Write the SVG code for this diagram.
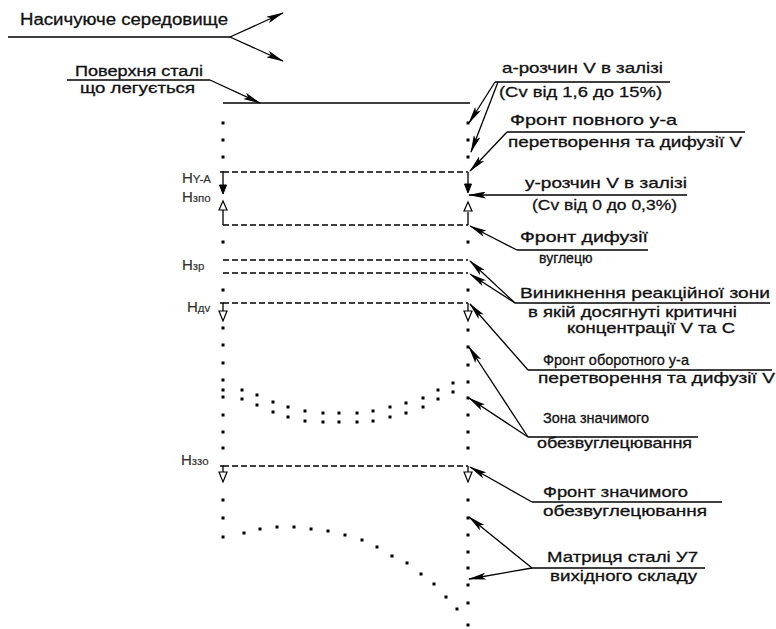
<svg xmlns="http://www.w3.org/2000/svg" width="776" height="629" viewBox="0 0 776 629">
<style>
text{font-family:"Liberation Sans",Arial,sans-serif;font-size:15px;fill:#111;stroke:#111;stroke-width:0.3;}
.sm{font-size:14px;}
.lbl{font-size:15px;fill:#333;stroke:#333;stroke-width:0.2;}
.sub{font-size:11.5px;}
.ln{stroke:#000;stroke-width:1.3;fill:none;}
.ld{stroke:#000;stroke-width:1.3;fill:none;marker-end:url(#ah);}
.da{stroke:#000;stroke-width:1.3;fill:none;stroke-dasharray:6 3;}
.dot{stroke:#000;stroke-width:3;fill:none;stroke-linecap:square;}
.ho{fill:#fff;stroke:#000;stroke-width:1.2;}
.fi{fill:#000;stroke:#000;stroke-width:1;}
</style>
<defs>
<marker id="ah" viewBox="0 0 18 7" markerWidth="18" markerHeight="7" markerUnits="userSpaceOnUse" refX="17" refY="3.5" orient="auto">
<path d="M0,0 L18,3.5 L0,7 L4,3.5 z" fill="#000"/>
</marker>
</defs>
<rect width="776" height="629" fill="#fff"/>

<g id="structure">
<line class="ln" x1="223" y1="103" x2="470" y2="103"/>
<line class="da" x1="223" y1="172" x2="468" y2="172"/>
<line class="da" x1="223" y1="225" x2="468" y2="225"/>
<line class="da" x1="223" y1="260" x2="468" y2="260"/>
<line class="da" x1="223" y1="273" x2="468" y2="273"/>
<line class="da" x1="223" y1="303" x2="468" y2="303"/>
<line class="da" x1="223" y1="466" x2="468" y2="466"/>
<path class="dot" d="M223,123h0.01M223,140h0.01M223,157h0.01M223,242h0.01M223,290h0.01M223,328h0.01M223,345h0.01M223,363h0.01M223,380h0.01M223,390h0.01M223,397h0.01M223,415h0.01M223,432h0.01M223,448h0.01M223,500h0.01M223,518h0.01M223,537h0.01"/>
<path class="dot" d="M468,123h0.01M468,140h0.01M468,157h0.01M468,242h0.01M468,290h0.01M468,330h0.01M468,347h0.01M468,365h0.01M468,382h0.01M468,398h0.01M468,415h0.01M468,432h0.01M468,448h0.01M468,500h0.01M468,518h0.01M468,535h0.01M468,552h0.01M468,568h0.01M468,585h0.01M468,603h0.01M468,625h0.01"/>
<path class="dot" d="M242,390h0.01M257,395h0.01M273,402h0.01M288,407h0.01M305,411h0.01M323,413h0.01M339,413h0.01M357,413h0.01M373,411h0.01M390,407h0.01M406,403h0.01M423,398h0.01M438,390h0.01M453,383h0.01"/>
<path class="dot" d="M242,399h0.01M257,405h0.01M273,412h0.01M288,417h0.01M305,421h0.01M323,422h0.01M339,422h0.01M357,422h0.01M373,421h0.01M390,417h0.01M406,413h0.01M423,407h0.01M438,399h0.01M453,392h0.01"/>
<path class="dot" d="M244,533h0.01M260,529h0.01M277,527h0.01M294,527h0.01M311,529h0.01M328,531h0.01M345,535h0.01M362,540h0.01M377,547h0.01M392,556h0.01M407,563h0.01M421,574h0.01M434,584h0.01M446,597h0.01M457,609h0.01"/>
<path class="ln" d="M220,172h3v13M223,210v15M220,303h3v8M220,466h3v6"/>
<polygon class="fi" points="219.5,185 226.5,185 223,194"/>
<polygon class="ho" points="223,201 219,210 227,210"/>
<polygon class="ho" points="219,311 227,311 223,321"/>
<polygon class="ho" points="219,472 227,472 223,482"/>
<path class="ln" d="M468,172v12M468,212v13M468,303v8M468,466v6"/>
<polygon class="fi" points="464.5,184 471.5,184 468,193"/>
<polygon class="ho" points="468,202 464,211 472,211"/>
<polygon class="ho" points="464,311 472,311 468,321"/>
<polygon class="ho" points="464,472 472,472 468,482"/>
</g>

<g id="connectors">
<line class="ln" x1="8" y1="37" x2="230" y2="37"/>
<line class="ld" x1="230" y1="37" x2="283" y2="13"/>
<line class="ld" x1="230" y1="37" x2="283" y2="61"/>
<line class="ln" x1="67" y1="80" x2="210" y2="80"/>
<line class="ld" x1="210" y1="80" x2="260" y2="103"/>
<line class="ln" x1="495" y1="82" x2="670" y2="82"/>
<line class="ld" x1="495" y1="82" x2="469" y2="123"/>
<line class="ld" x1="498" y1="82" x2="471" y2="152"/>
<line class="ln" x1="507" y1="132" x2="745" y2="132"/>
<line class="ld" x1="507" y1="132" x2="470" y2="171"/>
<line class="ld" x1="687" y1="195" x2="469" y2="195"/>
<line class="ln" x1="517" y1="250" x2="648" y2="250"/>
<line class="ld" x1="517" y1="250" x2="470" y2="226"/>
<line class="ln" x1="515" y1="303" x2="770" y2="303"/>
<line class="ld" x1="515" y1="303" x2="470" y2="261"/>
<line class="ld" x1="515" y1="303" x2="470" y2="274"/>
<line class="ln" x1="528" y1="370" x2="772" y2="370"/>
<line class="ld" x1="528" y1="370" x2="470" y2="304"/>
<line class="ln" x1="528" y1="437" x2="698" y2="437"/>
<line class="ld" x1="528" y1="437" x2="469" y2="347"/>
<line class="ld" x1="528" y1="437" x2="469" y2="398"/>
<line class="ln" x1="532" y1="502" x2="722" y2="502"/>
<line class="ld" x1="532" y1="502" x2="470" y2="467"/>
<line class="ln" x1="532" y1="568" x2="705" y2="568"/>
<line class="ld" x1="532" y1="568" x2="469" y2="517"/>
<line class="ld" x1="532" y1="568" x2="469" y2="579"/>
</g>

<g id="medium"><text x="20" y="25" style="font-size:16px" textLength="208" lengthAdjust="spacingAndGlyphs">Насичуюче середовище</text></g>
<g id="surface">
<text class="sm" x="75" y="76" textLength="128" lengthAdjust="spacingAndGlyphs">Поверхня сталі</text>
<text class="sm" x="80" y="93" textLength="115" lengthAdjust="spacingAndGlyphs">що легується</text>
</g>
<g id="alpha">
<text x="502" y="73" textLength="161" lengthAdjust="spacingAndGlyphs">а-розчин V в залізі</text>
<text x="499" y="97" textLength="163" lengthAdjust="spacingAndGlyphs">(Cv від 1,6 до 15%)</text>
</g>
<g id="front-full">
<text x="510" y="125" textLength="167" lengthAdjust="spacingAndGlyphs">Фронт повного у-а</text>
<text x="508" y="147" textLength="234" lengthAdjust="spacingAndGlyphs">перетворення та дифузії  V</text>
</g>
<g id="gamma">
<text x="525" y="188" textLength="162" lengthAdjust="spacingAndGlyphs">у-розчин V в залізі</text>
<text x="532" y="210" textLength="145" lengthAdjust="spacingAndGlyphs">(Cv від 0 до 0,3%)</text>
</g>
<g id="front-carbon">
<text x="520" y="242" textLength="128" lengthAdjust="spacingAndGlyphs">Фронт дифузії</text>
<text x="539" y="263" style="font-size:14px">вуглецю</text>
</g>
<g id="reaction">
<text x="520" y="298" textLength="250" lengthAdjust="spacingAndGlyphs">Виникнення реакційної зони</text>
<text class="sm" x="528" y="317" textLength="209" lengthAdjust="spacingAndGlyphs">в якій досягнуті критичні</text>
<text class="sm" x="567" y="333" textLength="168" lengthAdjust="spacingAndGlyphs">концентрації V та C</text>
</g>
<g id="front-reverse">
<text x="543" y="365" style="font-size:14.5px">Фронт оборотного у-а</text>
<text x="538" y="383" textLength="237" lengthAdjust="spacingAndGlyphs">перетворення та дифузії V</text>
</g>
<g id="zone">
<text x="543" y="423" style="font-size:14.5px">Зона значимого</text>
<text x="537" y="448" textLength="155" lengthAdjust="spacingAndGlyphs">обезвуглецювання</text>
</g>
<g id="front-decarb">
<text x="543" y="497" textLength="145" lengthAdjust="spacingAndGlyphs">Фронт значимого</text>
<text x="543" y="516" textLength="164" lengthAdjust="spacingAndGlyphs">обезвуглецювання</text>
</g>
<g id="matrix">
<text x="547" y="562" textLength="151" lengthAdjust="spacingAndGlyphs">Матриця сталі У7</text>
<text x="550" y="581" textLength="147" lengthAdjust="spacingAndGlyphs">вихідного складу</text>
</g>
<g id="levels">
<text class="lbl" x="182" y="183">H<tspan class="sub">Y-A</tspan></text>
<text class="lbl" x="182" y="202">H<tspan class="sub">зпо</tspan></text>
<text class="lbl" x="182" y="270">H<tspan class="sub">зр</tspan></text>
<text class="lbl" x="187" y="312">H<tspan class="sub">дv</tspan></text>
<text class="lbl" x="181" y="465">H<tspan class="sub">ззо</tspan></text>
</g>
</svg>
